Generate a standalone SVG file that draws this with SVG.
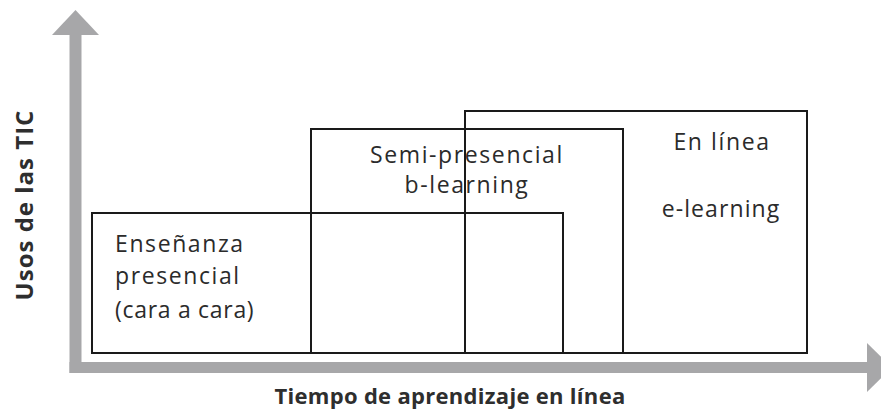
<svg xmlns="http://www.w3.org/2000/svg" width="881" height="413" viewBox="0 0 881 413">
<style>
.box{fill:none;stroke:#1a1a1a;stroke-width:2}
.lbl{font-family:"Open Sans","Noto Sans",sans-serif;font-size:23px;fill:#2b2b2b;letter-spacing:1.6px}
.axl{font-family:"Open Sans","Noto Sans",sans-serif;font-weight:bold;fill:#2e2e2e}
.ax{fill:#a7a7a9}
</style>
<rect width="881" height="413" fill="#fff"/>
<g id="axes">
<rect class="ax" x="69.5" y="34" width="12" height="339"/>
<rect class="ax" x="69.5" y="362" width="798" height="11"/>
<polygon class="ax" points="52,35 75.5,10 99,35"/>
<polygon class="ax" points="867,343 892,367.5 867,392"/>
</g>
<g id="connectors"></g>
<g id="presencial">
<rect class="box" x="92" y="213" width="471" height="140"/>
<text class="lbl" x="115" y="252">Enseñanza</text>
<text class="lbl" x="115" y="284">presencial</text>
<text class="lbl" x="115" y="318" style="letter-spacing:0.7px">(cara a cara)</text>
</g>
<g id="semipresencial">
<rect class="box" x="311" y="129" width="312" height="224"/>
<text class="lbl" x="467" y="163" text-anchor="middle">Semi-presencial</text>
<text class="lbl" x="467" y="193" text-anchor="middle">b-learning</text>
</g>
<g id="enlinea">
<rect class="box" x="465" y="111" width="342" height="242"/>
<text class="lbl" x="722" y="150" text-anchor="middle">En línea</text>
<text class="lbl" x="721" y="217" text-anchor="middle" style="letter-spacing:1.1px">e-learning</text>
</g>
<g id="labels">
<text class="axl" x="450" y="404" text-anchor="middle" font-size="22" letter-spacing="0.3">Tiempo de aprendizaje en línea</text>
<text class="axl" transform="translate(33,205) rotate(-90)" text-anchor="middle" font-size="24" letter-spacing="1">Usos de las TIC</text>
</g>
</svg>
